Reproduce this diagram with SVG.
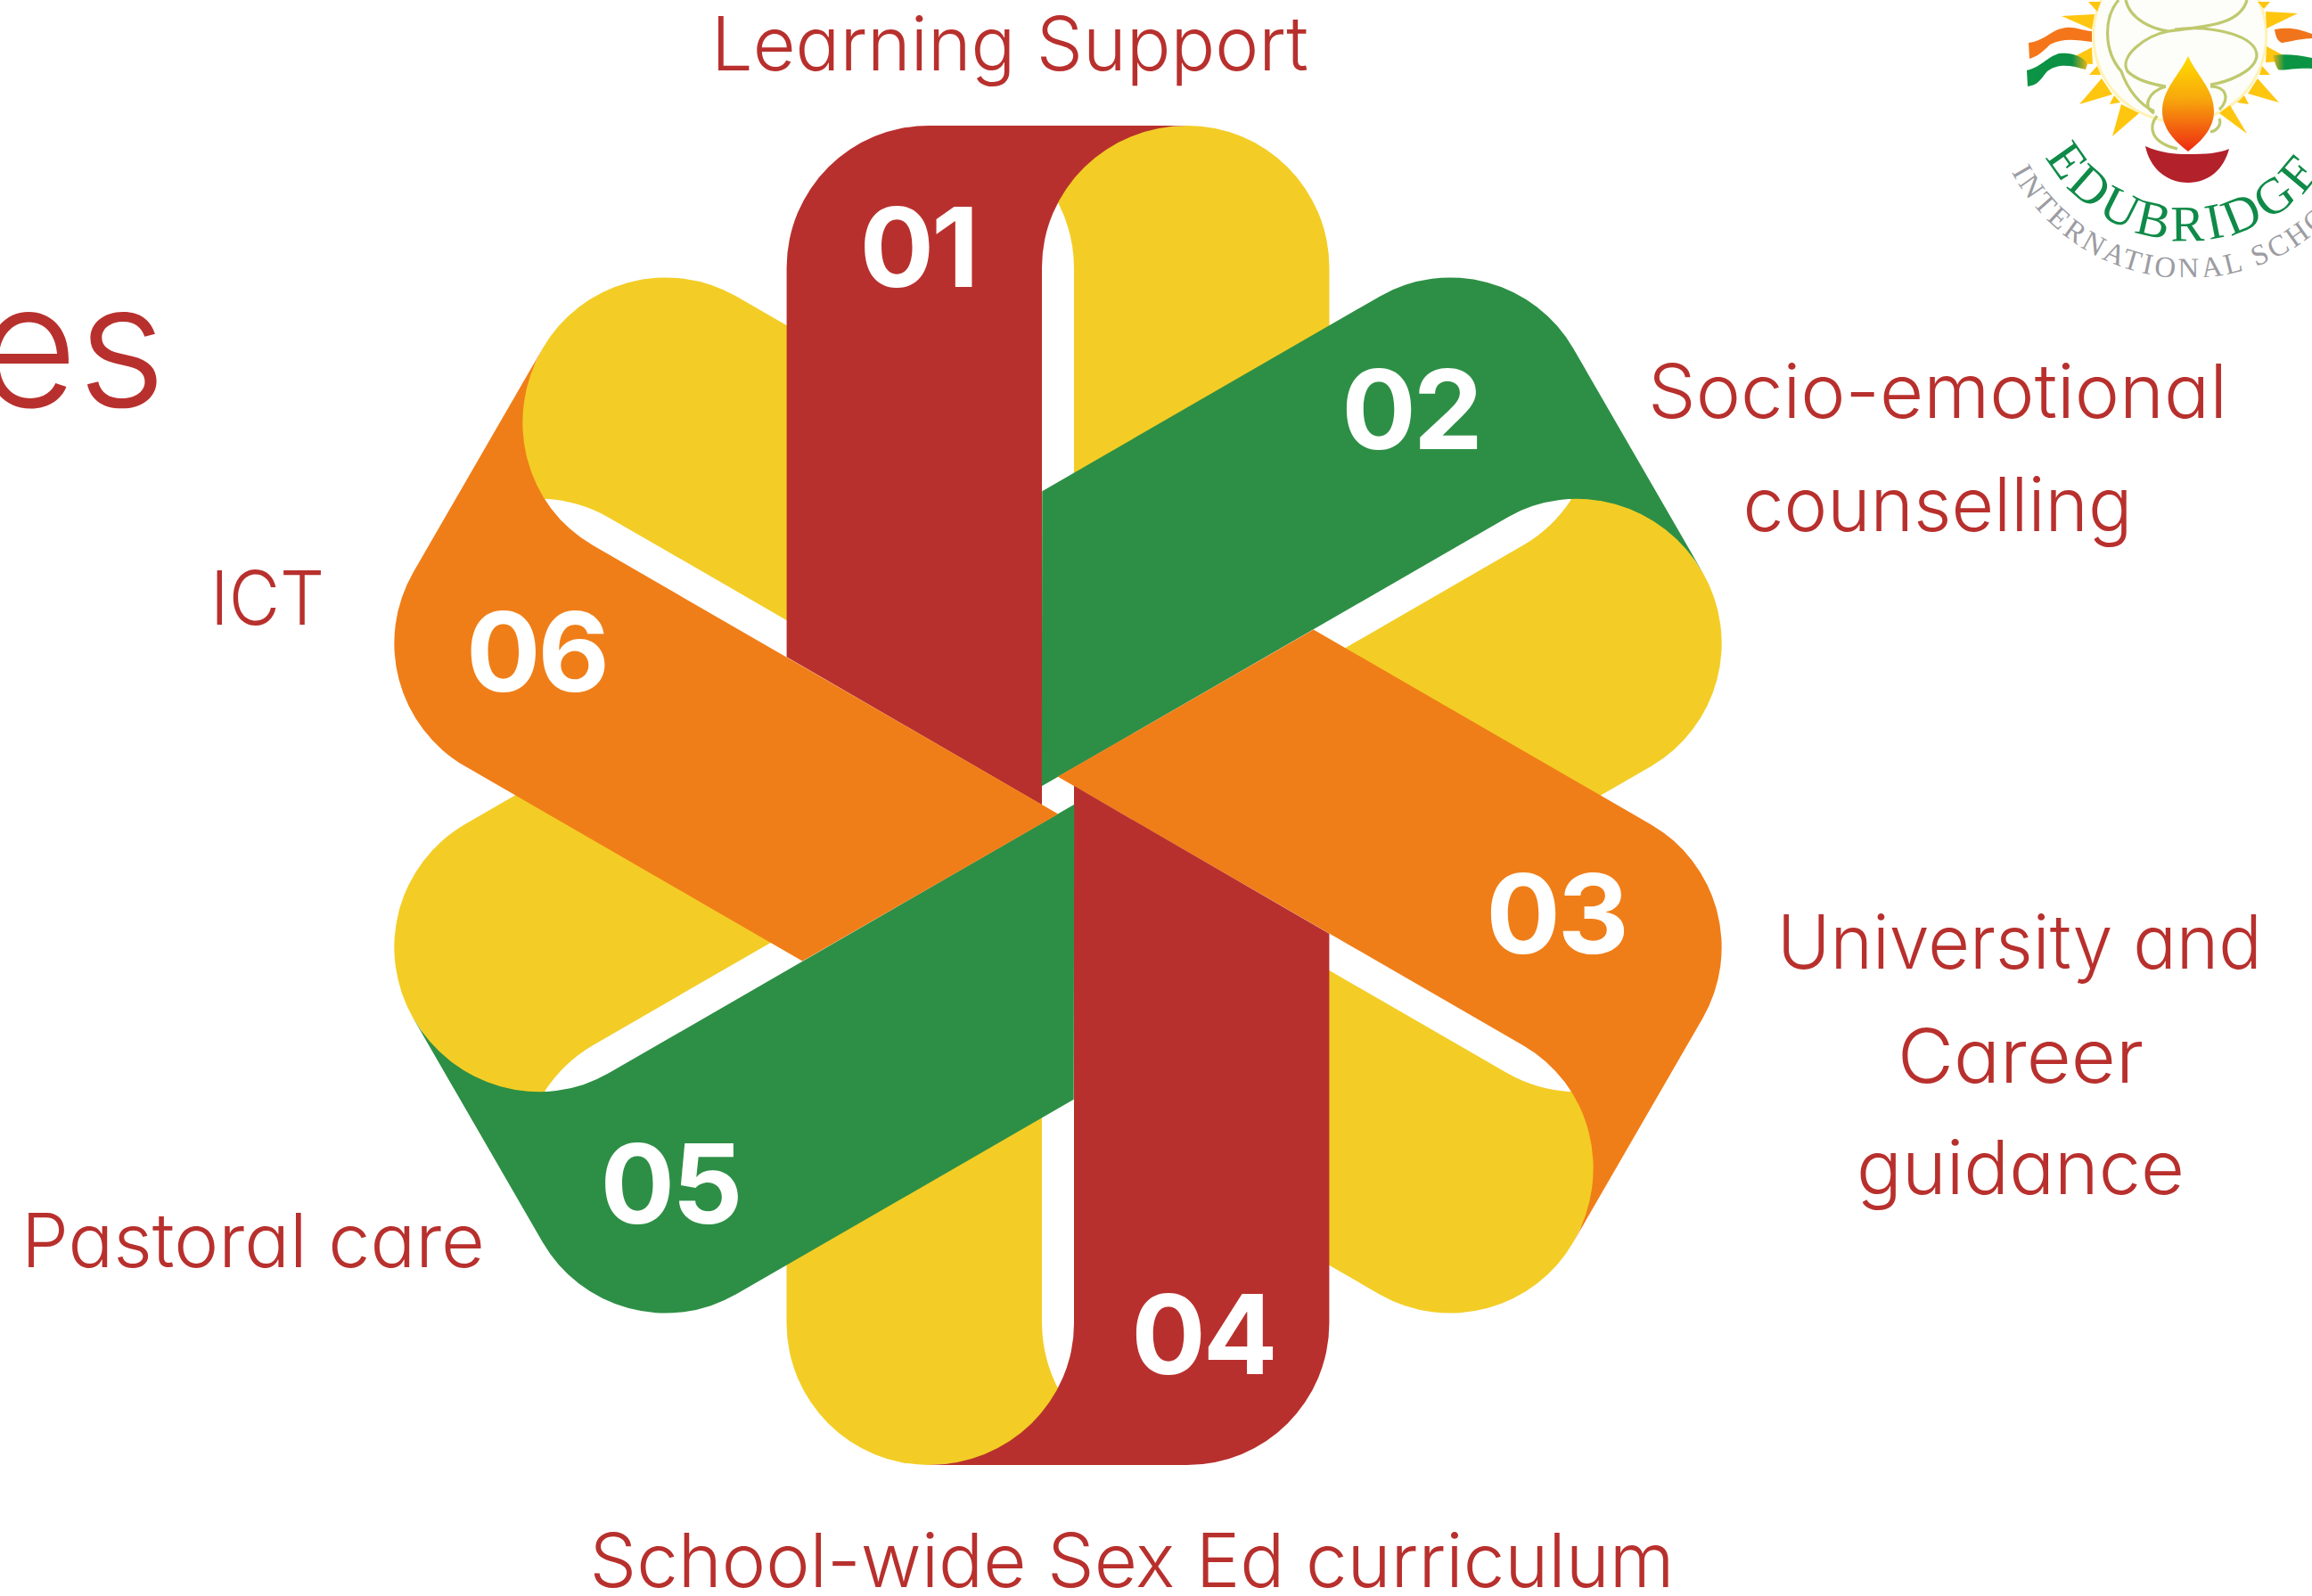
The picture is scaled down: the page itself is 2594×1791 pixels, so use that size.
<svg xmlns="http://www.w3.org/2000/svg" width="2594" height="1791" viewBox="0 0 2594 1791">
<style>
.lbl{font-family:"Inter","Lato","Liberation Sans",sans-serif;font-weight:300;font-size:84px;fill:#B8302D;text-anchor:middle;font-feature-settings:"cv11" 1;font-variant-ligatures:none}
.num{font-family:"Inter","Liberation Sans",sans-serif;font-weight:700;font-size:124px;letter-spacing:-3px;fill:#FFFFFF;text-anchor:middle}
.r{fill:#B8302D}.g{fill:#2D8F45}.o{fill:#F07E18}.y{fill:#F3CD26}
.ray{fill:#FFC60F}
.sw{fill:none;stroke:#BFC96E;stroke-width:3.2}
</style>
<defs>
<path id="band" d="M882.6 737.2V300A159.4 159.4 0 0 1 1042 141H1332A163 159 0 0 0 1169 300V903.2Z"/>
<path id="petal" d="M1205 540V300A163 163 0 0 0 1187.5 228H1160V146L1300 143L1332 141A159.5 159.5 0 0 1 1491.5 300V375Z"/>
<linearGradient id="fl" x1="0" y1="0" x2="0" y2="1"><stop offset="0" stop-color="#FFDD00"/><stop offset=".45" stop-color="#F8A70C"/><stop offset="1" stop-color="#EE2A12"/></linearGradient>
<linearGradient id="rgl" x1="0" y1="0" x2="1" y2="0"><stop offset="0" stop-color="#0C9445"/><stop offset=".75" stop-color="#0C8F45"/><stop offset="1" stop-color="#E4B51A"/></linearGradient>
<linearGradient id="rgr" x1="0" y1="0" x2="1" y2="0"><stop offset="0" stop-color="#E4B51A"/><stop offset=".3" stop-color="#0C9445"/></linearGradient>
<path id="arcA" d="M2295 176A183 183 0 0 0 2615 176"/>
<path id="arcB" d="M2257 193A224 224 0 0 0 2653 193"/>
<clipPath id="logoClip"><rect x="2255" y="0" width="339" height="311"/></clipPath>
</defs>
<text id="title-fragment" x="186" y="456" style="font-family:'Inter','Liberation Sans',sans-serif;font-weight:300;font-size:192px;fill:#B8302D" text-anchor="end">es</text>
<g id="petals">
<use href="#petal" class="y"/>
<use href="#petal" class="y" transform="rotate(60 1187 892.5)"/>
<use href="#petal" class="y" transform="rotate(120 1187 892.5)"/>
<use href="#petal" class="y" transform="rotate(180 1187 892.5)"/>
<use href="#petal" class="y" transform="rotate(240 1187 892.5)"/>
<use href="#petal" class="y" transform="rotate(300 1187 892.5)"/>
</g>
<g id="node-01"><use href="#band" class="r"/><text class="num" x="1030" y="322">01</text><text class="lbl" x="1133" y="79" textLength="670" lengthAdjust="spacingAndGlyphs">Learning Support</text></g>
<g id="node-02"><use href="#band" class="g" transform="rotate(60 1187 892.5)"/><text class="num" x="1583" y="504">02</text><text class="lbl" x="2174" y="469" textLength="650" lengthAdjust="spacingAndGlyphs">Socio-emotional</text><text class="lbl" x="2174" y="596" textLength="437" lengthAdjust="spacingAndGlyphs">counselling</text></g>
<g id="node-03"><use href="#band" class="o" transform="rotate(120 1187 892.5)"/><text class="num" x="1746" y="1070">03</text><text class="lbl" x="2266" y="1087" textLength="544" lengthAdjust="spacingAndGlyphs">University and</text><text class="lbl" x="2267" y="1215" textLength="276" lengthAdjust="spacingAndGlyphs">Career</text><text class="lbl" x="2267" y="1340" textLength="368" lengthAdjust="spacingAndGlyphs">guidance</text></g>
<g id="node-04"><use href="#band" class="r" transform="rotate(180 1187 892.5)"/><text class="num" x="1350" y="1542">04</text><text class="lbl" x="1270" y="1781" textLength="1217" lengthAdjust="spacingAndGlyphs">School-wide Sex Ed curriculum</text></g>
<g id="node-05"><use href="#band" class="g" transform="rotate(240 1187 892.5)"/><text class="num" x="752" y="1373">05</text><text class="lbl" x="284" y="1422" textLength="520" lengthAdjust="spacingAndGlyphs">Pastoral care</text></g>
<g id="node-06"><use href="#band" class="o" transform="rotate(300 1187 892.5)"/><text class="num" x="602" y="776">06</text><text class="lbl" x="300" y="701" textLength="128" lengthAdjust="spacingAndGlyphs">ICT</text></g>
<g id="logo" clip-path="url(#logoClip)">
<circle cx="2445.7" cy="40" r="97" fill="#FDFDF9" stroke="#FFF3B5" stroke-width="3"/>
<g class="ray">
<polygon points="2313,18 2350,16 2347,33"/>
<polygon points="2578,15 2542,13 2543,32"/>
<polygon points="2333,117 2358,88 2370,106"/>
<polygon points="2557,115 2533,88 2522,105"/>
<polygon points="2370,153 2380,117 2400,127"/>
<polygon points="2521,150 2502,118 2490,127"/>
<polygon points="2315,70 2347,53 2348,72"/>
<polygon points="2573,68 2543,52 2542,70"/>
<polygon points="2343,2 2357,2 2353,13"/>
<polygon points="2533,2 2547,2 2540,10"/>
<polygon points="2344,84 2353,74 2357,84"/>
<polygon points="2547,84 2538,74 2535,84"/>
<polygon points="2367,117 2372,107 2379,115"/>
<polygon points="2523,117 2518,107 2510,115"/>
</g>
<path fill="#F5761A" d="M2276 48C2295 45 2300 35 2313 32C2325 28 2335 34 2347 35L2347 47C2330 45 2315 42 2300 50C2292 58 2288 62 2277 66Z"/>
<path fill="url(#rgl)" d="M2274 79C2292 74 2295 65 2310 60C2325 58 2340 65 2342 72L2340 78C2325 74 2310 70 2297 80C2290 88 2288 95 2275 97Z"/>
<path fill="#F0741C" d="M2552 33C2570 30 2580 33 2594 38V43C2575 44 2565 48 2560 48C2555 46 2553 40 2552 33Z"/>
<path fill="url(#rgr)" d="M2550 62C2565 60 2580 62 2594 65V77C2575 76 2560 80 2556 78C2553 74 2552 68 2550 62Z"/>
<g class="sw">
<path d="M2385 0C2390 23 2417 33 2433 35C2467 30 2513 30 2521 0"/>
<path d="M2377 0C2360 20 2360 57 2380 80C2387 100 2400 117 2417 125"/>
<path d="M2433 35C2407 40 2377 63 2387 80C2397 90 2417 95 2430 97"/>
<path d="M2440 33C2483 28 2533 40 2532 63C2530 80 2500 92 2480 95"/>
<path d="M2430 97C2410 103 2403 120 2417 127"/>
<path d="M2480 97C2497 97 2503 110 2490 123"/>
<path d="M2420 130C2410 143 2413 160 2443 167"/>
<path d="M2490 133C2493 140 2487 147 2480 148"/>
</g>
<path fill="url(#fl)" d="M2455 63C2465 85 2484 100 2484 125C2484 145 2468 160 2455 170C2442 160 2426 145 2426 125C2426 100 2445 85 2455 63Z"/>
<path fill="#B3212B" d="M2407 164C2425 172 2440 173 2455 173C2475 173 2490 172 2501 167C2495 190 2478 205 2455 205C2430 205 2412 188 2407 164Z"/>
<text font-family="'Liberation Serif',serif" font-size="57" fill="#0F8A48" letter-spacing="5"><textPath href="#arcA">EDUBRIDGE</textPath></text>
<text font-family="'Liberation Serif',serif" font-size="33" fill="#9C9CA2" letter-spacing="3.5"><textPath href="#arcB">INTERNATIONAL SCHOOL</textPath></text>
</g>
</svg>
